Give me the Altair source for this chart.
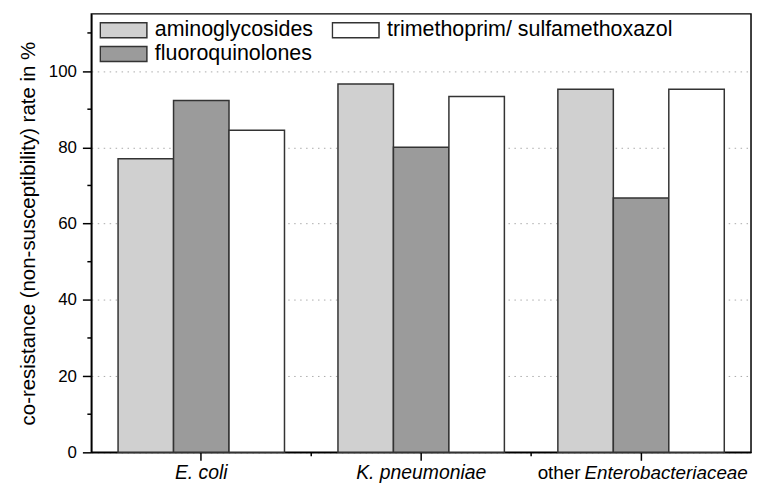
import altair as alt
import pandas as pd

categories = ["E. coli", "K. pneumoniae", "other Enterobacteriaceae"]
antibiotics = ["aminoglycosides", "fluoroquinolones", "trimethoprim/ sulfamethoxazol"]
aminoglycosides = [77.0, 96.6, 95.2]
fluoroquinolones = [92.3, 80.0, 66.7]
trimethoprim = [84.5, 93.3, 95.2]
fills = ["#d0d0d0", "#9b9b9b", "#ffffff"]
y_major = [0, 20, 40, 60, 80, 100]
y_minor = [10, 30, 50, 70, 90, 110]
x_minor = ["K. pneumoniae", "other Enterobacteriaceae"]
x_labels = ["E. coli", "K. pneumoniae", "Enterobacteriaceae"]
x_prefix = ["", "", "other"]

rows = []
for series, vals in zip(antibiotics, [aminoglycosides, fluoroquinolones, trimethoprim]):
    for c, v in zip(categories, vals):
        rows.append({"category": c, "antibiotic": series, "rate": v})
df = pd.DataFrame(rows)

W, H = 665, 442
FONT = "Liberation Sans"
xscale = alt.Scale(domain=categories, paddingInner=0, paddingOuter=0)
yscale = alt.Scale(domain=[0, 115], nice=False, zero=True)

bars = alt.Chart(df).mark_bar(stroke="#333333", strokeWidth=1.5, opacity=1).encode(
    x=alt.X("category:N", scale=xscale, sort=categories,
            axis=alt.Axis(labels=False, title=None, tickSize=8, tickWidth=1.5,
                          tickColor="black", domainColor="black", domainWidth=1.5,
                          grid=False)),
    xOffset=alt.XOffset("antibiotic:N", sort=antibiotics,
                        scale=alt.Scale(domain=antibiotics, paddingInner=0, paddingOuter=0.482)),
    y=alt.Y("rate:Q", scale=yscale,
            axis=alt.Axis(values=y_major, title="co-resistance (non-susceptibility) rate in %",
                          titleFont=FONT, titleFontSize=20.6, titleFontWeight="normal",
                          titleColor="black", titlePadding=10,
                          labelFont=FONT, labelFontSize=17, labelColor="black", labelPadding=6,
                          tickSize=9, tickWidth=1.5, tickColor="black",
                          domainColor="black", domainWidth=1.5,
                          grid=True, gridColor="#aaaaaa", gridDash=[1.5, 4.5], gridWidth=1)),
    color=alt.Color("antibiotic:N", sort=antibiotics,
                    scale=alt.Scale(domain=antibiotics, range=fills),
                    legend=alt.Legend(title=None, orient="none", legendX=8, legendY=5.5,
                                      columns=2, columnPadding=18, rowPadding=2,
                                      symbolType="M-1,-0.32H1V0.32H-1Z", symbolSize=2209,
                                      symbolStrokeColor="#333333", symbolStrokeWidth=1.5,
                                      symbolOpacity=1, labelFont=FONT, labelFontSize=21.6,
                                      labelColor="black", labelOffset=7, clipHeight=22,
                                      labelLimit=500, padding=0)),
)

yminor = alt.Chart(pd.DataFrame({"rate": y_minor})).mark_rule(color="black", strokeWidth=1.5).encode(
    y=alt.Y("rate:Q", scale=yscale), x=alt.value(-4), x2=alt.value(0))

xminor = alt.Chart(pd.DataFrame({"category": x_minor})).mark_rule(color="black", strokeWidth=1.5).encode(
    x=alt.X("category:N", scale=xscale, sort=categories, bandPosition=0),
    y=alt.value(H), y2=alt.value(H + 4))

lab = pd.DataFrame({"category": categories, "label": x_labels, "prefix": x_prefix})

lab_center = alt.Chart(lab.iloc[:2]).mark_text(
    font=FONT, fontSize=19.5, fontStyle="italic", baseline="alphabetic", align="center", color="black"
).encode(x=alt.X("category:N", scale=xscale, sort=categories), y=alt.value(469), text="label:N")

lab_italic = alt.Chart(lab.iloc[2:]).mark_text(
    font=FONT, fontSize=19, fontStyle="italic", baseline="alphabetic", align="left", dx=-57, color="black"
).encode(x=alt.X("category:N", scale=xscale, sort=categories), y=alt.value(469), text="label:N")

lab_prefix = alt.Chart(lab.iloc[2:]).mark_text(
    font=FONT, fontSize=19, baseline="alphabetic", align="right", dx=-61, color="black"
).encode(x=alt.X("category:N", scale=xscale, sort=categories), y=alt.value(469), text="prefix:N")

chart = alt.layer(bars, yminor, xminor, lab_center, lab_italic, lab_prefix).properties(
    width=W, height=H,
    autosize=alt.AutoSizeParams(type="none"),
    padding={"left": 84, "top": 4, "right": 2, "bottom": 31},
    background="white",
).configure_view(stroke="black", strokeWidth=1.5)

chart.save("out.html", embed_options={"renderer": "svg", "actions": False})
